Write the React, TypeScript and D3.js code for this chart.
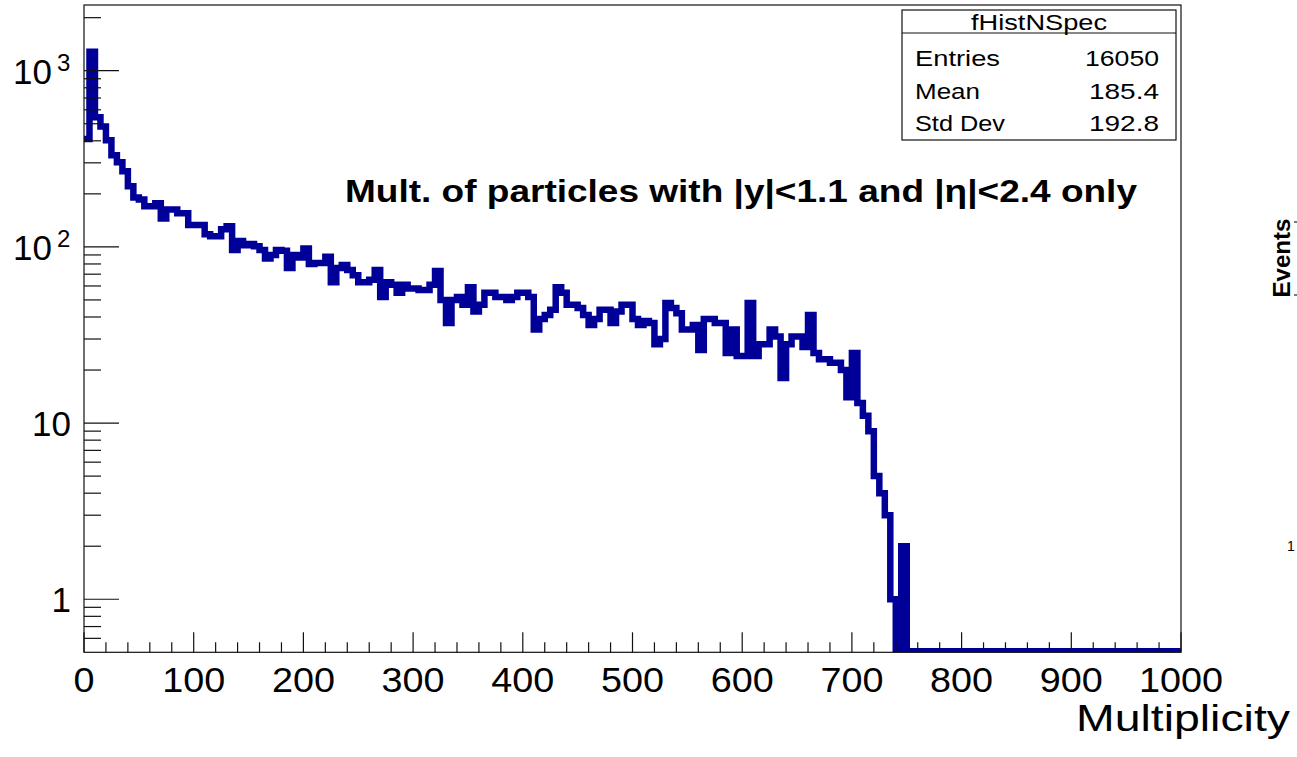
import React from 'react';
import * as d3 from 'd3';

const W = 1297;
const H = 757;
const FONT = "'Liberation Sans', Arial, Helvetica, sans-serif";

// Histogram: 200 bins of width 5 from 0 to 1000
const xMin = 0;
const xMax = 1000;
const binWidth = 5;
const counts = [
  410, 1280, 544, 483, 403, 331, 302, 269, 221, 191,
  186, 170, 170, 177, 145, 163, 163, 155, 155, 133,
  133, 133, 118, 115, 115, 126, 131, 96, 108, 102,
  104, 101, 96, 86, 90, 96, 95, 76, 90, 87,
  98, 80, 81, 81, 88, 63, 76, 79, 74, 69,
  63, 63, 65, 74, 52, 63, 61, 55, 61, 58,
  58, 57, 57, 61, 73, 50, 37, 50, 52, 47,
  59, 43, 47, 55, 55, 52, 52, 50, 52, 55,
  55, 52, 34, 39, 41, 44, 59, 55, 47, 47,
  45, 41, 36, 39, 44, 44, 37, 43, 47, 47,
  39, 36, 38, 37, 28, 30, 48, 45, 42, 34,
  34, 36, 26, 39, 39, 37, 37, 25, 34, 24,
  24, 48, 24, 28, 28, 34, 31, 18, 28, 31,
  31, 27, 41, 25, 23, 23, 22, 22, 20, 14,
  25, 13, 11, 9, 5, 4, 3, 1, 0, 2,
  0, 0, 0, 0, 0, 0, 0, 0, 0, 0,
  0, 0, 0, 0, 0, 0, 0, 0, 0, 0,
  0, 0, 0, 0, 0, 0, 0, 0, 0, 0,
  0, 0, 0, 0, 0, 0, 0, 0, 0, 0,
  0, 0, 0, 0, 0, 0, 0, 0, 0, 0,
];

const xMajorTicks = [0, 100, 200, 300, 400, 500, 600, 700, 800, 900, 1000];
const xTickLabels = ['0', '100', '200', '300', '400', '500', '600', '700', '800', '900', '1000'];
const yMajorTicks = [1, 10, 100, 1000];
const yTickBase = ['1', '10', '10', '10'];
const yTickSup = ['', '', '2', '3'];
const yDomain = [0.5, 2360];

const statsTitle = 'fHistNSpec';
const statsNames = ['Entries', 'Mean', 'Std Dev'];
const statsValues = ['16050', '185.4', '192.8'];
const statsNameWidths = [85, 65, 90];
const statsValueWidths = [74, 70, 70];

const plotTitle = 'Mult. of particles with |y|<1.1 and |\u03b7|<2.4 only';
const xAxisTitle = 'Multiplicity';

const LEFT = 84;
const RIGHT = 1181;
const TOP = 5;
const BOTTOM = 652.3;
const LINE_COLOR = '#000099';

export default function App() {
  const x = d3.scaleLinear().domain([xMin, xMax]).range([LEFT, RIGHT]);
  const y = d3.scaleLog().domain(yDomain).range([BOTTOM, TOP]);
  const yv = (v: number) => (v > 0 ? y(v) : BOTTOM - 1);

  const pts: [number, number][] = [];
  counts.forEach((c, i) => {
    const lo = xMin + i * binWidth;
    const hi = lo + binWidth;
    pts.push([x(lo), yv(c)]);
    pts.push([x(hi), yv(c)]);
  });
  const path = d3.line()(pts) || '';

  const xMinor: number[] = [];
  for (let v = xMin; v <= xMax; v += 20) if (v % 100 !== 0) xMinor.push(v);
  const yMinor: number[] = [];
  [0.1, 1, 10, 100, 1000].forEach((d) => {
    for (let k = 2; k <= 9; k++) {
      const v = d * k;
      if (v > yDomain[0] && v < yDomain[1]) yMinor.push(v);
    }
  });

  return (
    <svg
      width={W}
      height={H}
      style={{ position: 'absolute', left: 0, top: 0, background: '#fff' }}
      fontFamily={FONT}
    >
      <defs>
        <clipPath id="frameClip">
          <rect x={LEFT} y={TOP} width={RIGHT - LEFT} height={BOTTOM - TOP} />
        </clipPath>
      </defs>
      <rect x={0} y={0} width={W} height={H} fill="#fff" />

      {/* histogram */}
      <path
        d={path}
        fill="none"
        stroke={LINE_COLOR}
        strokeWidth={6.5}
        strokeLinejoin="miter"
        strokeLinecap="butt"
        clipPath="url(#frameClip)"
      />

      {/* frame */}
      <rect
        x={LEFT}
        y={TOP}
        width={RIGHT - LEFT}
        height={BOTTOM - TOP}
        fill="none"
        stroke="#111"
        strokeWidth={1.2}
      />

      {/* ticks */}
      <g stroke="#111" strokeWidth={1.2}>
        {xMajorTicks.map((v) => (
          <line key={'xM' + v} x1={x(v)} x2={x(v)} y1={BOTTOM} y2={BOTTOM - 20} />
        ))}
        {xMinor.map((v) => (
          <line key={'xm' + v} x1={x(v)} x2={x(v)} y1={BOTTOM} y2={BOTTOM - 10} />
        ))}
        {yMajorTicks.map((v) => (
          <line key={'yM' + v} x1={LEFT} x2={LEFT + 35} y1={y(v)} y2={y(v)} />
        ))}
        {yMinor.map((v) => (
          <line key={'ym' + v} x1={LEFT} x2={LEFT + 17} y1={y(v)} y2={y(v)} />
        ))}
      </g>

      {/* x tick labels */}
      <g fontSize={35} fill="#000" textAnchor="middle">
        {xMajorTicks.map((v, i) => (
          <text
            key={'xl' + v}
            x={x(v)}
            y={692}
            textLength={xTickLabels[i].length * 21}
            lengthAdjust="spacingAndGlyphs"
          >
            {xTickLabels[i]}
          </text>
        ))}
      </g>

      {/* y tick labels */}
      <g fontSize={35} fill="#000">
        {yMajorTicks.map((v, i) =>
          yTickSup[i] ? (
            <g key={'yl' + v}>
              <text x={52} y={y(v) + 13} textAnchor="end">
                {yTickBase[i]}
              </text>
              <text x={57} y={y(v) + 0.5} fontSize={24} textAnchor="start">
                {yTickSup[i]}
              </text>
            </g>
          ) : (
            <text key={'yl' + v} x={71} y={y(v) + 12.5} textAnchor="end">
              {yTickBase[i]}
            </text>
          )
        )}
      </g>

      {/* x axis title */}
      <text
        x={1076}
        y={731}
        fontSize={36}
        fill="#000"
        textLength={214}
        lengthAdjust="spacingAndGlyphs"
      >
        {xAxisTitle}
      </text>

      {/* plot annotation */}
      <text
        x={345}
        y={202}
        fontSize={31}
        fontWeight="bold"
        fill="#000"
        textLength={792}
        lengthAdjust="spacingAndGlyphs"
      >
        {plotTitle}
      </text>

      {/* stats box */}
      <g>
        <rect x={902} y={10} width={274} height={130} fill="#fff" stroke="#111" strokeWidth={1.2} />
        <line x1={902} x2={1176} y1={33} y2={33} stroke="#111" strokeWidth={1.2} />
        <text
          x={1039}
          y={30}
          fontSize={22}
          textAnchor="middle"
          textLength={136}
          lengthAdjust="spacingAndGlyphs"
        >
          {statsTitle}
        </text>
        {statsNames.map((n, i) => (
          <text
            key={'sn' + i}
            x={915}
            y={66 + i * 32.7}
            fontSize={22.5}
            textLength={statsNameWidths[i]}
            lengthAdjust="spacingAndGlyphs"
          >
            {n}
          </text>
        ))}
        {statsValues.map((n, i) => (
          <text
            key={'sv' + i}
            x={1159}
            y={66 + i * 32.7}
            fontSize={22.5}
            textAnchor="end"
            textLength={statsValueWidths[i]}
            lengthAdjust="spacingAndGlyphs"
          >
            {n}
          </text>
        ))}
      </g>

      {/* neighbouring pad, cut off at the right edge */}
      <text
        transform="translate(1290,258) rotate(-90)"
        fontSize={24}
        fontWeight="bold"
        textAnchor="middle"
        textLength={79}
        lengthAdjust="spacingAndGlyphs"
      >
        Events
      </text>
      <g stroke="#222" strokeWidth={1.2}>
        <line x1={1294} x2={1297} y1={222} y2={222} />
        <line x1={1294} x2={1297} y1={295} y2={295} />
      </g>
      <text x={1287} y={551} fontSize={14} fill="#000">
        1
      </text>
    </svg>
  );
}
